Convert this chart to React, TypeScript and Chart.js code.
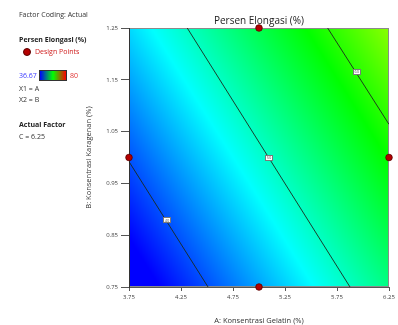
import React, { useEffect, useRef } from "react";
import { Chart, registerables } from "chart.js";
Chart.register(...registerables);

// Response surface (Persen Elongasi) read at grid nodes, C = 6.25
const gridA = [3.75, 5.0, 6.25];
const gridB = [0.75, 1.0, 1.25];
const gridY = [
  [34.5, 43.6, 52.8],
  [40.2, 49.3, 58.5],
  [45.9, 55.1, 64.2],
];
const colorMin = 36.67;
const colorMax = 80;

// Design points
const designA = [3.75, 5.0, 5.0, 6.25];
const designB = [1.0, 1.25, 0.75, 1.0];

// Contour lines
const contourLevels = ["40", "50", "60"];
const contourA = [
  [3.75, 4.51],
  [4.31, 5.875],
  [5.66, 6.25],
];
const contourB = [
  [0.992, 0.75],
  [1.25, 0.75],
  [1.25, 1.064],
];
const labelA = [4.115, 5.096, 5.94];
const labelB = [0.879, 1.0, 1.165];

const xTicks = [3.75, 4.25, 4.75, 5.25, 5.75, 6.25];
const yTicks = [0.75, 0.85, 0.95, 1.05, 1.15, 1.25];

const FONT = "'Open Sans', 'Noto Sans', sans-serif";

function colormap(v: number): [number, number, number] {
  let t = (v - colorMin) / (colorMax - colorMin);
  t = Math.max(0, Math.min(1, t));
  const stops: [number, number, number, number][] = [
    [0, 0, 0, 255],
    [0.25, 0, 255, 255],
    [0.5, 0, 255, 0],
    [0.75, 255, 255, 0],
    [1, 255, 0, 0],
  ];
  for (let i = 0; i < stops.length - 1; i++) {
    const a = stops[i], b = stops[i + 1];
    if (t <= b[0]) {
      const f = (t - a[0]) / (b[0] - a[0]);
      return [a[1] + (b[1] - a[1]) * f, a[2] + (b[2] - a[2]) * f, a[3] + (b[3] - a[3]) * f];
    }
  }
  return [255, 0, 0];
}

function seg(arr: number[], v: number): [number, number] {
  let i = 0;
  while (i < arr.length - 2 && v > arr[i + 1]) i++;
  let f = (v - arr[i]) / (arr[i + 1] - arr[i]);
  f = Math.max(0, Math.min(1, f));
  return [i, f];
}

function surface(a: number, b: number): number {
  const [i, fx] = seg(gridA, a);
  const [j, fy] = seg(gridB, b);
  const v00 = gridY[j][i], v10 = gridY[j][i + 1];
  const v01 = gridY[j + 1][i], v11 = gridY[j + 1][i + 1];
  return (v00 * (1 - fx) + v10 * fx) * (1 - fy) + (v01 * (1 - fx) + v11 * fx) * fy;
}

const heatmapPlugin = {
  id: "heatmap",
  beforeDraw(chart: any) {
    const { ctx, chartArea: ca, scales } = chart;
    const xs = scales.x, ys = scales.y;
    const L = Math.round(ca.left), T = Math.round(ca.top);
    const w = Math.round(ca.right) - L, h = Math.round(ca.bottom) - T;
    const img = ctx.createImageData(w, h);
    for (let py = 0; py < h; py++) {
      const b = ys.getValueForPixel(T + py + 0.5);
      for (let px = 0; px < w; px++) {
        const a = xs.getValueForPixel(L + px + 0.5);
        const [r, g, bl] = colormap(surface(a, b));
        const k = (py * w + px) * 4;
        img.data[k] = r;
        img.data[k + 1] = g;
        img.data[k + 2] = bl;
        img.data[k + 3] = 255;
      }
    }
    ctx.putImageData(img, L, T);
    ctx.save();
    ctx.strokeStyle = "#8a8a8a";
    ctx.lineWidth = 1;
    ctx.strokeRect(L + 0.5, T + 0.5, w - 1, h - 1);
    ctx.restore();
  },
};

const contourLabelPlugin = {
  id: "contourLabels",
  afterDatasetsDraw(chart: any) {
    const { ctx, scales } = chart;
    ctx.save();
    for (let i = 0; i < contourLevels.length; i++) {
      const px = scales.x.getPixelForValue(labelA[i]);
      const py = scales.y.getPixelForValue(labelB[i]);
      const bw = 8, bh = 6;
      ctx.fillStyle = "#ffffff";
      ctx.fillRect(Math.round(px - bw / 2), Math.round(py - bh / 2), bw, bh);
      ctx.strokeStyle = "#7a7a7a";
      ctx.lineWidth = 1;
      ctx.strokeRect(Math.round(px - bw / 2) + 0.5, Math.round(py - bh / 2) + 0.5, bw - 1, bh - 1);
      ctx.fillStyle = "#555";
      ctx.font = `4px ${FONT}`;
      ctx.textAlign = "center";
      ctx.textBaseline = "middle";
      ctx.fillText(contourLevels[i], px, py + 0.3);
    }
    ctx.restore();
  },
};

export default function App() {
  const ref = useRef<HTMLCanvasElement | null>(null);

  useEffect(() => {
    if (!ref.current) return;
    const contourSets = contourLevels.map((lvl, i) => ({
      type: "line" as const,
      label: "Contour " + lvl,
      data: contourA[i].map((a, k) => ({ x: a, y: contourB[i][k] })),
      borderColor: "#1c2a1c",
      borderWidth: 0.9,
      pointRadius: 0,
      showLine: true,
      fill: false,
    }));
    const chart = new Chart(ref.current, {
      type: "scatter",
      data: {
        datasets: [
          {
            label: "Design Points",
            data: designA.map((a, i) => ({ x: a, y: designB[i] })),
            backgroundColor: "#b40000",
            borderColor: "#5a0000",
            borderWidth: 0.8,
            pointRadius: 3.3,
            clip: false as any,
          },
          ...contourSets,
        ] as any,
      },
      options: {
        responsive: false,
        animation: false,
        layout: { padding: { left: 80, right: 9, top: 28, bottom: 0 } },
        plugins: {
          legend: { display: false },
          tooltip: { enabled: false },
          title: { display: false },
        },
        scales: {
          x: {
            type: "linear",
            min: 3.75,
            max: 6.25,
            afterBuildTicks: (s: any) => {
              s.ticks = xTicks.map((v) => ({ value: v }));
            },
            afterFit: (s: any) => {
              s.height = 38;
            },
            ticks: {
              callback: (v: any) => Number(v).toFixed(2),
              font: { size: 6, family: FONT },
              color: "#444",
              padding: 3,
              maxRotation: 0,
            },
            grid: { display: true, drawOnChartArea: false, drawTicks: true, tickLength: 4, color: "#555" },
            border: { display: true, color: "#555", width: 1 },
            title: {
              display: true,
              text: "A: Konsentrasi Gelatin (%)",
              font: { size: 7.5, family: FONT },
              color: "#333",
              padding: { top: 0, bottom: 0 },
            },
          },
          y: {
            type: "linear",
            min: 0.75,
            max: 1.25,
            afterBuildTicks: (s: any) => {
              s.ticks = yTicks.map((v) => ({ value: v }));
            },
            afterFit: (s: any) => {
              s.width = 49;
            },
            ticks: {
              callback: (v: any) => Number(v).toFixed(2),
              font: { size: 6, family: FONT },
              color: "#444",
              padding: 3,
            },
            grid: { display: true, drawOnChartArea: false, drawTicks: true, tickLength: 8, color: "#555" },
            border: { display: true, color: "#333", width: 1 },
            title: {
              display: true,
              text: "B: Konsentrasi Karagenan (%)",
              font: { size: 7.5, family: FONT },
              color: "#333",
              padding: { top: 4, bottom: 0 },
            },
          },
        },
      },
      plugins: [heatmapPlugin, contourLabelPlugin],
    } as any);
    return () => chart.destroy();
  }, []);

  const txt = (top: number, extra: React.CSSProperties = {}): React.CSSProperties => ({
    position: "absolute",
    left: 19,
    top,
    fontSize: 7,
    lineHeight: "8px",
    color: "#333",
    whiteSpace: "nowrap",
    fontFamily: FONT,
    ...extra,
  });

  return (
    <div style={{ position: "fixed", left: 0, top: 0, width: 398, height: 325, background: "#fff", fontFamily: FONT }}>
      <canvas ref={ref} width={398} height={325} style={{ position: "absolute", left: 0, top: 0 }} />
      <div
        style={{
          position: "absolute",
          left: 129,
          width: 260,
          top: 13,
          textAlign: "center",
          fontSize: 10,
          lineHeight: "14px",
          color: "#222",
          fontFamily: FONT,
        }}
      >
        Persen Elongasi (%)
      </div>
      <div style={txt(11)}>Factor Coding: Actual</div>
      <div style={txt(36, { fontWeight: "bold", color: "#222" })}>Persen Elongasi (%)</div>
      <div
        style={{
          position: "absolute",
          left: 23,
          top: 48,
          width: 8,
          height: 8,
          borderRadius: "50%",
          background: "#b40000",
          boxSizing: "border-box",
          border: "0.8px solid #5a0000",
        }}
      />
      <div style={txt(48, { left: 35, color: "#d02020" })}>Design Points</div>
      <div style={txt(72, { color: "#3a3aff" })}>36.67</div>
      <div
        style={{
          position: "absolute",
          left: 39,
          top: 70,
          width: 28,
          height: 11,
          boxSizing: "border-box",
          border: "1px solid #333",
          background: "linear-gradient(to right, #0000ff, #00ff00, #ff0000)",
        }}
      />
      <div style={txt(72, { left: 70, color: "#e03030" })}>80</div>
      <div style={txt(85)}>X1 = A</div>
      <div style={txt(96)}>X2 = B</div>
      <div style={txt(121, { fontWeight: "bold", color: "#222" })}>Actual Factor</div>
      <div style={txt(133)}>C = 6.25</div>
    </div>
  );
}
